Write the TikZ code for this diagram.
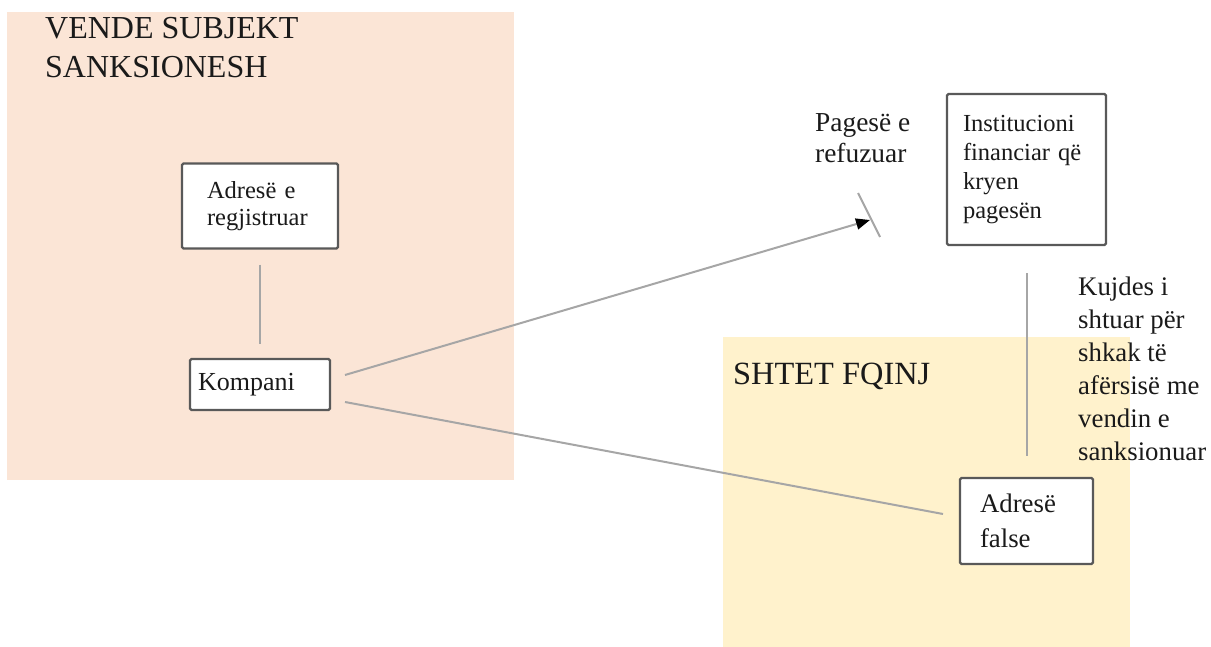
\documentclass[tikz,border=0pt]{standalone}
\usepackage{fontspec}
\setmainfont{Liberation Serif}
\usetikzlibrary{arrows.meta,calc}
\definecolor{peach}{HTML}{FBE5D6}
\definecolor{cream}{HTML}{FFF2CC}
\definecolor{connc}{HTML}{A6A6A6}
\definecolor{bord}{HTML}{595959}
\definecolor{ink}{HTML}{1A1A1A}
\begin{document}
\begin{tikzpicture}[x=1pt,y=-1pt,
  box/.style={draw=bord, line width=2.2pt, fill=white, rounded corners=1.5pt, inner ysep=0pt, align=left, text=ink},
  conn/.style={draw=connc, line width=2pt},
  lbl/.style={inner sep=0pt, anchor=base west, align=left, text=ink}]
\useasboundingbox (0,0) rectangle (1211,647);
\fill[peach] (7,12) rectangle (514,480);
\fill[cream] (723,337) rectangle (1130,647);
% boxes
\node[box, inner xsep=25pt, text width=106pt, minimum height=85pt,
      font={\fontsize{24.5}{27}\selectfont}] (reg) at (260,206) {Adresë e\\regjistruar};
\node[box, inner xsep=8pt, text width=124pt, minimum height=51pt,
      font={\fontsize{26}{30}\selectfont}] (komp) at (260,384.5) {Kompani};
\node[box, inner xsep=16pt, text width=127pt, minimum height=151pt,
      font={\fontsize{24.5}{29.3}\selectfont}] (inst) at (1026.5,169.5) {Institucioni\\financiar që\\kryen\\pagesën};
\node[box, inner xsep=20pt, text width=93pt, minimum height=86pt,
      font={\fontsize{26.8}{35}\selectfont}] (false) at (1026.5,521) {Adresë\\false};
% labels (anchored at the baseline of their last line)
\node[lbl, font={\fontsize{32}{39}\selectfont}] (t1) at (45,78) {VENDE SUBJEKT\\SANKSIONESH};
\node[lbl, font={\fontsize{32.4}{39}\selectfont}] (t2) at (733,384) {SHTET FQINJ};
\node[lbl, font={\fontsize{27.4}{31}\selectfont}] (pay) at (815,163) {Pagesë e\\refuzuar};
\node[lbl, font={\fontsize{26.8}{33}\selectfont}] (care) at (1078,460) {Kujdes i\\shtuar për\\shkak të\\afërsisë me\\vendin e\\sanksionuar};
% connectors
\coordinate (a1) at (345,375);
\coordinate (a2) at (870,220);
\coordinate (b1) at (858,193);
\coordinate (b2) at (880,237);
\coordinate (c1) at (345,402);
\coordinate (c2) at (943,514);
\draw[conn, shorten <=15pt, shorten >=14pt] (reg) -- (komp);
\draw[conn, -{Triangle[length=14pt,width=11pt,color=black]}] (a1) -- (a2);
\draw[conn] (b1) -- (b2);
\draw[conn] (c1) -- (c2);
\draw[conn, shorten <=27pt, shorten >=21pt] (inst) -- (false);
\end{tikzpicture}
\end{document}
